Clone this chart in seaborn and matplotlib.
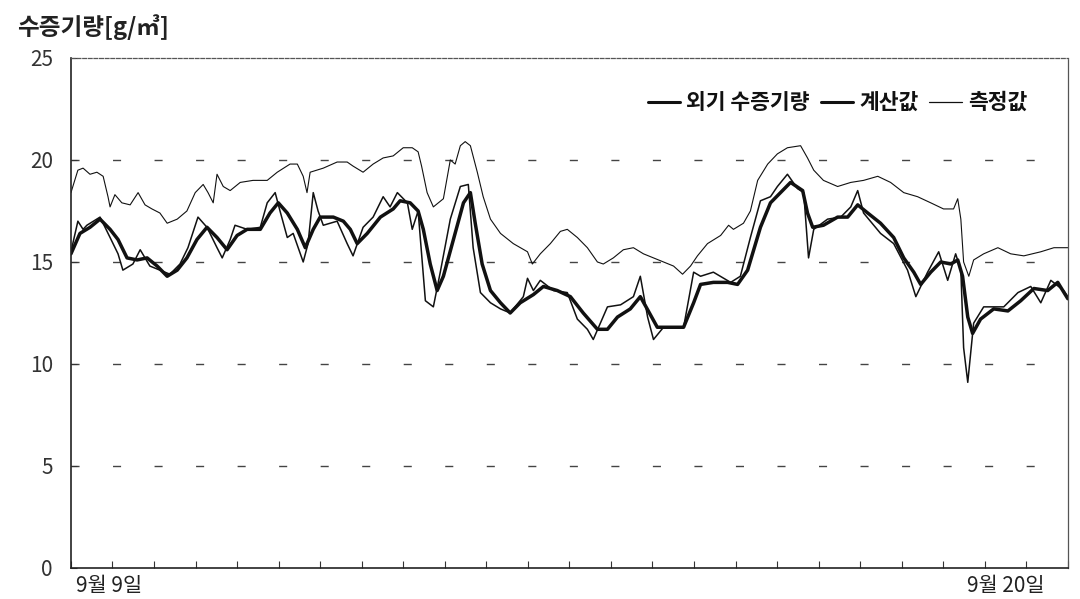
import numpy as np
import pandas as pd
import matplotlib
matplotlib.use("Agg")
import matplotlib.pyplot as plt
import seaborn as sns

# Time in hours from 9월 9일 00:00, values in g/㎥
outdoor_h = [0, 2, 3.5, 4.6, 8.4, 11.3, 13.6, 15.0, 17.9, 20.0, 22.8, 25.7, 28.6, 31.5, 33.8,
             36.7, 39.3, 42.2, 43.7, 46.0, 47.4, 50.9, 54.7, 56.7, 59.0, 60.4, 62.5, 64.2,
             67.1, 68.5, 70.0, 71.4, 72.9, 76.9, 79.8, 81.5, 84.4, 87.3, 90.2, 92.2, 94.3,
             97.2, 98.6, 100.3, 102.4, 104.7, 106.7, 109.6, 112.5, 114.8, 116.2, 118.3,
             121.2, 124.1, 126.9, 130.7, 131.9, 133.6, 135.6, 139.4, 143.4, 146.3, 149.2,
             150.9, 155.0, 158.8, 162.5, 164.5, 166.6, 168.3, 171.2, 177.0, 179.9, 181.9,
             185.6, 190.6, 193.4, 196.3, 199.2, 202.1, 204.1, 207.0, 209.9, 211.7, 213.1,
             214.6, 218.6, 222.4, 225.3, 227.3, 229.0, 233.9, 237.7, 241.7, 244.1, 247.5,
             250.7, 253.3, 255.6, 257.1, 257.9, 259.1, 260.8, 263.7, 269.5, 273.6, 277.3,
             280.2, 283.1, 286.8, 288]
outdoor_v = [15.5, 17.0, 16.6, 16.8, 17.2, 16.2, 15.4, 14.6, 14.9, 15.6, 14.8, 14.6, 14.4, 14.9,
             15.7, 17.2, 16.7, 15.7, 15.2, 16.1, 16.8, 16.6, 16.7, 17.9, 18.4, 17.5, 16.2,
             16.4, 15.0, 15.9, 18.4, 17.5, 16.8, 17.0, 15.9, 15.3, 16.7, 17.2, 18.2, 17.7,
             18.4, 17.9, 16.6, 17.5, 13.1, 12.8, 14.5, 17.1, 18.7, 18.8, 15.7, 13.5, 13.0,
             12.7, 12.5, 13.3, 14.2, 13.6, 14.1, 13.6, 13.5, 12.2, 11.7, 11.2, 12.8, 12.9,
             13.3, 14.3, 12.3, 11.2, 11.8, 11.8, 14.5, 14.3, 14.5, 14.0, 14.3, 16.2, 18.0,
             18.2, 18.7, 19.3, 18.6, 18.4, 15.2, 16.6, 17.1, 17.2, 17.7, 18.5, 17.4, 16.4,
             15.9, 14.6, 13.3, 14.5, 15.5, 14.1, 15.4, 14.6, 10.8, 9.1, 12.0, 12.8, 12.8,
             13.5, 13.8, 13.0, 14.1, 13.6, 13.3]

calc_h = [0, 2.6, 5.5, 8.4, 11.3, 13.6, 16.2, 19.1, 22.0, 24.9, 27.8, 30.7, 33.5, 36.4, 39.3,
          42.2, 45.1, 48.0, 50.9, 54.7, 57.5, 59.9, 62.5, 65.4, 67.7, 70.0, 72.0, 75.8, 78.7,
          80.7, 82.7, 85.6, 89.4, 93.1, 95.1, 98.0, 100.3, 101.8, 103.8, 105.8, 107.6, 110.5,
          113.4, 115.4, 116.8, 118.8, 121.2, 124.1, 126.9, 129.8, 133.6, 136.5, 140.5, 144.3,
          148.0, 152.1, 155.0, 157.9, 161.6, 164.5, 166.8, 169.4, 173.2, 177.0, 179.9, 181.9,
          185.6, 189.7, 192.6, 195.5, 199.2, 202.1, 205.0, 207.9, 211.4, 212.8, 214.3, 217.4,
          221.5, 224.4, 227.3, 230.2, 233.9, 237.7, 240.6, 243.5, 245.5, 248.4, 251.3, 254.2,
          256.2, 257.6, 259.1, 260.5, 262.8, 266.6, 270.7, 274.4, 278.2, 282.2, 285.1, 288]
calc_v = [15.4, 16.4, 16.7, 17.1, 16.6, 16.1, 15.2, 15.1, 15.2, 14.8, 14.3, 14.6, 15.2, 16.1,
          16.7, 16.2, 15.6, 16.3, 16.6, 16.6, 17.4, 17.9, 17.4, 16.6, 15.7, 16.6, 17.2, 17.2,
          17.0, 16.6, 15.9, 16.4, 17.2, 17.6, 18.0, 17.9, 17.5, 16.6, 14.9, 13.6, 14.3, 16.1,
          17.9, 18.4, 16.9, 14.9, 13.6, 13.0, 12.5, 13.0, 13.4, 13.8, 13.6, 13.3, 12.5, 11.7,
          11.7, 12.3, 12.7, 13.3, 12.6, 11.8, 11.8, 11.8, 13.0, 13.9, 14.0, 14.0, 13.9, 14.6,
          16.7, 17.9, 18.4, 18.9, 18.5, 17.4, 16.7, 16.8, 17.2, 17.2, 17.8, 17.4, 16.9, 16.2,
          15.2, 14.5, 13.9, 14.5, 15.0, 14.9, 15.1, 14.3, 12.3, 11.5, 12.2, 12.7, 12.6, 13.1,
          13.7, 13.6, 14.0, 13.2]

meas_h = [0, 2.0, 3.5, 5.5, 7.5, 9.3, 10.7, 11.3, 12.7, 14.7, 17.1, 19.4, 21.4, 23.4, 25.7,
          27.8, 30.7, 33.5, 35.9, 38.2, 39.6, 41.1, 42.2, 44.0, 46.0, 48.9, 52.6, 56.7, 59.6,
          63.3, 65.4, 67.1, 68.2, 69.1, 72.9, 76.9, 79.8, 81.5, 84.4, 87.3, 90.2, 93.1, 96.0,
          98.6, 100.3, 101.3, 102.9, 104.7, 107.6, 109.6, 111.0, 112.5, 113.9, 115.4, 117.4,
          119.1, 121.2, 124.1, 127.8, 131.9, 133.3, 135.6, 138.5, 141.4, 143.4, 146.3, 149.2,
          152.1, 153.8, 156.7, 159.6, 162.5, 165.4, 168.3, 171.2, 174.1, 176.7, 179.0, 181.0,
          183.9, 187.7, 190.0, 191.4, 194.3, 196.3, 198.4, 201.3, 204.1, 207.0, 210.8, 212.8,
          214.6, 217.4, 221.5, 225.3, 229.0, 233.1, 236.8, 240.6, 244.6, 248.4, 252.1, 255.0,
          256.2, 257.1, 257.9, 259.4, 260.8, 263.7, 267.8, 271.5, 275.3, 280.2, 284.0, 288]
meas_v = [18.4, 19.5, 19.6, 19.3, 19.4, 19.2, 18.2, 17.7, 18.3, 17.9, 17.8, 18.4, 17.8, 17.6,
          17.4, 16.9, 17.1, 17.5, 18.4, 18.8, 18.4, 17.9, 19.3, 18.7, 18.5, 18.9, 19.0, 19.0,
          19.4, 19.8, 19.8, 19.2, 18.4, 19.4, 19.6, 19.9, 19.9, 19.7, 19.4, 19.8, 20.1, 20.2,
          20.6, 20.6, 20.4, 19.7, 18.4, 17.7, 18.1, 20.0, 19.8, 20.7, 20.9, 20.7, 19.4, 18.2,
          17.1, 16.4, 15.9, 15.5, 14.9, 15.4, 15.9, 16.5, 16.6, 16.2, 15.7, 15.0, 14.9, 15.2,
          15.6, 15.7, 15.4, 15.2, 15.0, 14.8, 14.4, 14.8, 15.3, 15.9, 16.3, 16.8, 16.6, 16.9,
          17.5, 19.0, 19.8, 20.3, 20.6, 20.7, 20.1, 19.5, 19.0, 18.7, 18.9, 19.0, 19.2, 18.9,
          18.4, 18.2, 17.9, 17.6, 17.6, 18.1, 17.1, 15.0, 14.3, 15.1, 15.4, 15.7, 15.4, 15.3,
          15.5, 15.7, 15.7]

labels = ["외기 수증기량", "계산값", "측정값"]
date_labels = ["9월 9일", "9월 20일"]
date_label_h = [11, 270]

df_out = pd.DataFrame({"h": outdoor_h, "v": outdoor_v})
df_calc = pd.DataFrame({"h": calc_h, "v": calc_v})
df_meas = pd.DataFrame({"h": meas_h, "v": meas_v})

sns.set_theme(style="white")
plt.rcParams["font.family"] = ["Noto Sans CJK KR", "DejaVu Sans"]

fig = plt.figure(figsize=(10.8, 5.99), dpi=100)
ax = fig.add_axes([0.0657, 0.0518, 0.923, 0.8514])

ink = "#111111"
sns.lineplot(data=df_out, x="h", y="v", ax=ax, color=ink, lw=1.1, label=labels[0])
sns.lineplot(data=df_calc, x="h", y="v", ax=ax, color=ink, lw=2.5, label=labels[1])
sns.lineplot(data=df_meas, x="h", y="v", ax=ax, color=ink, lw=0.8, label=labels[2])

ax.set_xlim(0, 288)
ax.set_ylim(0, 25)
ax.set_xlabel("")
ax.set_ylabel("")

# horizontal guide lines drawn as short dashes
for yv in [5, 10, 15, 20]:
    ax.axhline(yv, color="#444444", lw=1.0, linestyle=(0, (5.8, 24.1)), zorder=0)

ax.set_yticks([0, 5, 10, 15, 20, 25])
ax.set_yticklabels(["0", "5", "10", "15", "20", "25"])
ax.tick_params(axis="y", direction="in", length=4, width=0.8, colors="#333333",
               labelsize=15, pad=13, left=True)
ax.set_xticks(np.arange(0, 289, 12), minor=True)
ax.set_xticks(date_label_h)
ax.set_xticklabels(date_labels)
ax.tick_params(axis="x", which="major", length=0, labelsize=15, pad=5, colors="#222222")
ax.tick_params(axis="x", which="minor", direction="in", length=5, width=0.8,
               color="#333333", bottom=True)

for side in ["left", "bottom"]:
    ax.spines[side].set_color("#222222")
    ax.spines[side].set_linewidth(1.2)
ax.spines["top"].set_color("#555555")
ax.spines["top"].set_linewidth(0.9)
ax.spines["top"].set_linestyle((0, (3, 1.5)))
ax.spines["right"].set_color("#555555")
ax.spines["right"].set_linewidth(0.9)
ax.spines["right"].set_linestyle((0, (1, 1)))

fig.text(0.016, 0.955, "수증기량[g/㎥]", fontsize=17, fontweight="bold", color="#222222",
         va="center", ha="left")

leg = ax.legend(loc="upper right", bbox_to_anchor=(0.968, 0.95), ncol=3, frameon=False,
                handlelength=1.5, handletextpad=0.3, columnspacing=0.5,
                prop={"size": 15.5, "weight": "bold"}, borderaxespad=0)
for line in leg.get_lines():
    line.set_linewidth(2.2)
leg.get_lines()[2].set_linewidth(0.9)
for t in leg.get_texts():
    t.set_color("#111111")

fig.savefig("out.png", dpi=100)
